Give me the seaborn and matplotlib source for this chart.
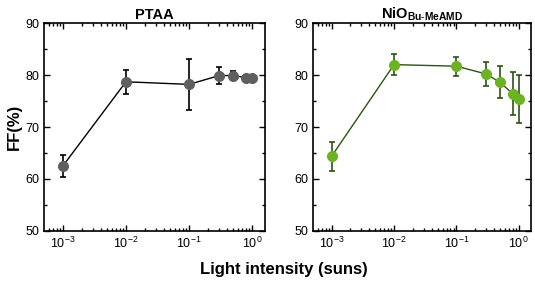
import numpy as np
import pandas as pd
import seaborn as sns
import matplotlib.pyplot as plt
from matplotlib.ticker import LogLocator, MultipleLocator, NullFormatter

# light intensity (suns)
intensity = [0.001, 0.01, 0.1, 0.3, 0.5, 0.8, 1.0]

ptaa_ff = [62.5, 78.7, 78.2, 79.9, 79.9, 79.5, 79.4]
ptaa_err = [2.2, 2.3, 4.9, 1.6, 0.8, 0.5, 0.4]

nio_ff = [64.4, 82.0, 81.7, 80.2, 78.6, 76.4, 75.4]
nio_err = [2.8, 2.0, 1.8, 2.4, 3.1, 4.1, 4.6]

panels = [
    ("PTAA", ptaa_ff, ptaa_err, "#5f5f5f", "black"),
    (r"NiO$_{\mathbf{Bu\text{-}MeAMD}}$", nio_ff, nio_err, "#6cb321", "#2c5410"),
]

sns.set_style("ticks")
plt.rcParams['font.family'] = ['Liberation Sans', 'DejaVu Sans']
plt.rcParams['mathtext.fontset'] = 'custom'
plt.rcParams['mathtext.bf'] = 'Liberation Sans:bold'
plt.rcParams['mathtext.rm'] = 'Liberation Sans'
plt.rcParams.update({'text.color': 'black', 'axes.labelcolor': 'black',
                     'xtick.color': 'black', 'ytick.color': 'black',
                     'axes.edgecolor': 'black'})

fig = plt.figure(figsize=(5.35, 2.81), dpi=100)
axes = [fig.add_axes([0.082, 0.178, 0.413, 0.740]),
        fig.add_axes([0.585, 0.178, 0.408, 0.740])]

for ax, (title, ff, err, mcol, lcol) in zip(axes, panels):
    df = pd.DataFrame({"I": intensity, "FF": ff})
    ax.errorbar(df["I"], df["FF"], yerr=err, fmt="none", ecolor=lcol,
                elinewidth=1.2, capsize=2.5, capthick=1.2, zorder=2)
    sns.lineplot(data=df, x="I", y="FF", ax=ax, color=lcol, lw=1.0,
                 marker="o", markersize=7.2, markerfacecolor=mcol,
                 markeredgecolor=mcol, zorder=3)
    ax.set_xscale("log")
    ax.set_xlim(10 ** -3.3, 10 ** 0.2)
    ax.set_ylim(50, 90)
    ax.xaxis.set_major_locator(LogLocator(base=10, numticks=10))
    ax.xaxis.set_minor_locator(LogLocator(base=10, subs=np.arange(2, 10), numticks=10))
    ax.xaxis.set_minor_formatter(NullFormatter())
    ax.yaxis.set_major_locator(MultipleLocator(10))
    ax.yaxis.set_minor_locator(MultipleLocator(5))
    ax.tick_params(which="both", direction="in", top=True, right=True, width=1.0)
    ax.tick_params(which="major", length=4, labelsize=9)
    ax.tick_params(which="minor", length=2)
    for s in ax.spines.values():
        s.set_linewidth(1.2)
    ax.set_xlabel("")
    ax.set_ylabel("")
    ax.set_title(title, fontsize=10.5, fontweight="bold", pad=3)

axes[0].set_ylabel("FF(%)", fontsize=12, fontweight="bold", labelpad=2)
fig.text(0.53, 0.025, "Light intensity (suns)", ha="center", fontsize=12, fontweight="bold")

plt.savefig("out.png", dpi=100)
